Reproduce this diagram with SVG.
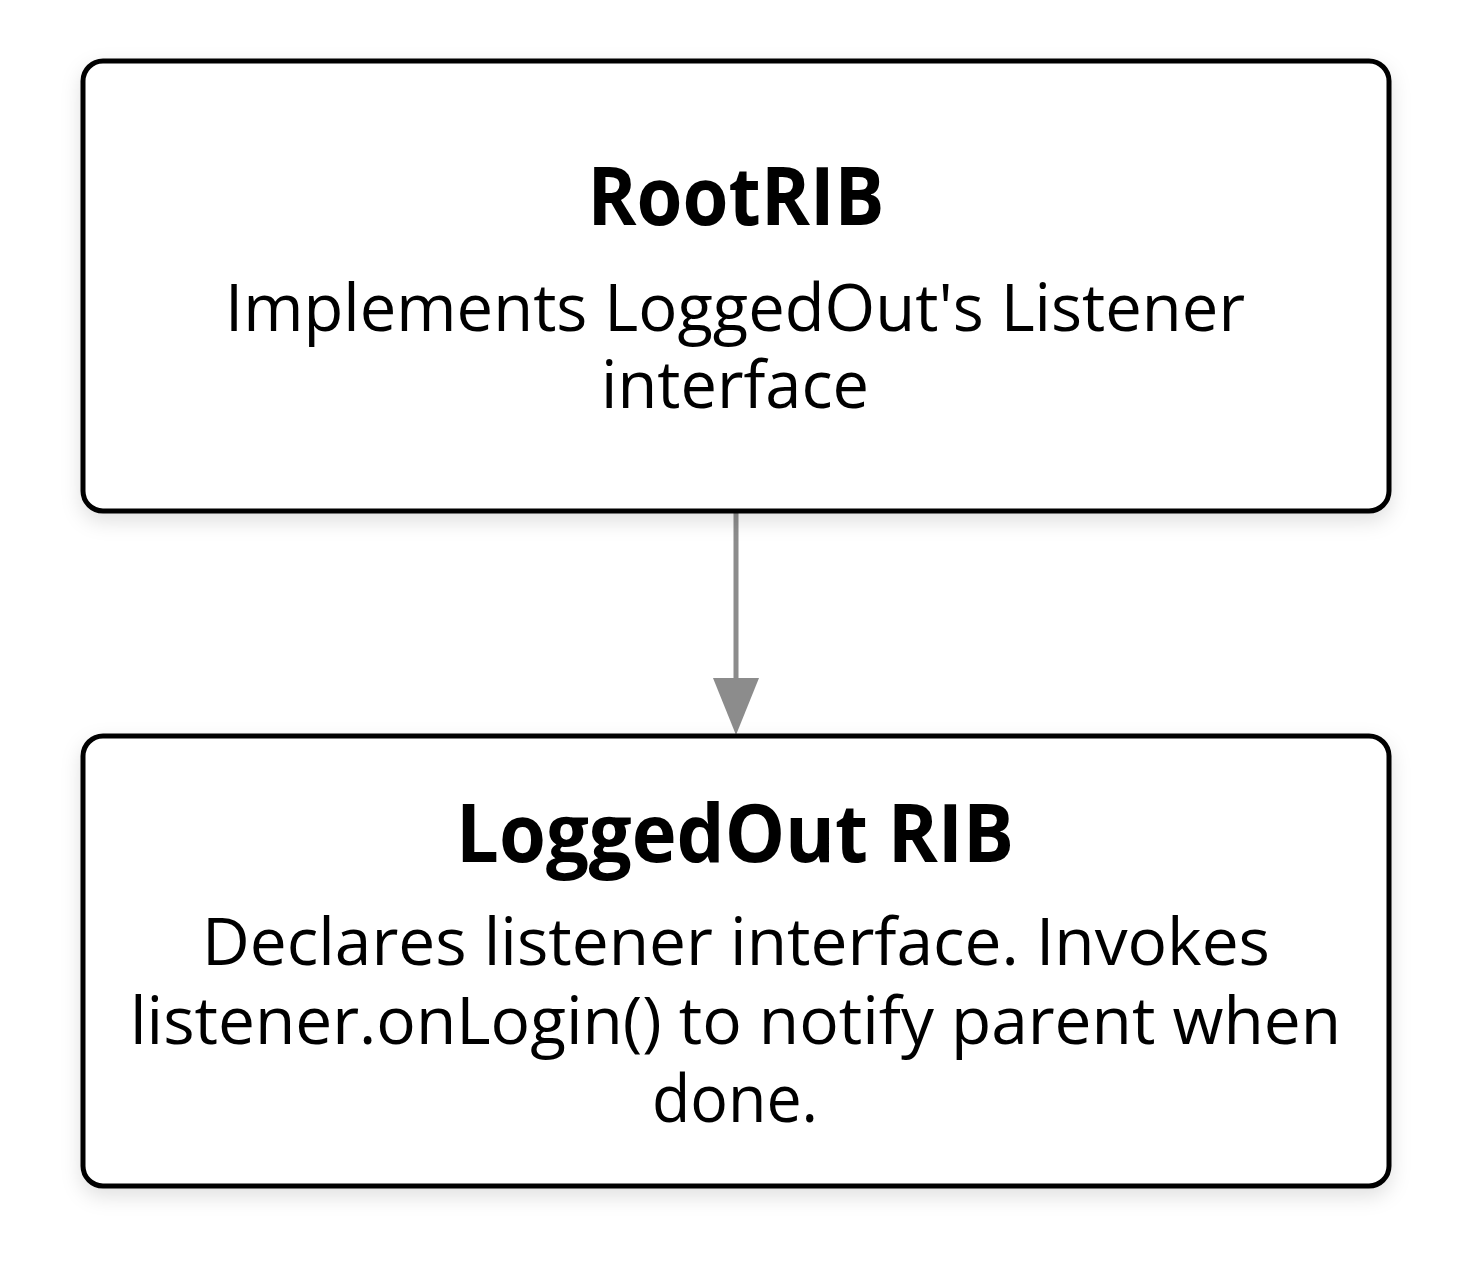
<svg xmlns="http://www.w3.org/2000/svg" width="1484" height="1264" viewBox="0 0 1484 1264">
<style>
.box{fill:#ffffff;stroke:#000000;stroke-width:5;filter:url(#sh)}
.title{font-family:"Open Sans","Noto Sans",sans-serif;font-weight:bold;font-size:80px;fill:#000;text-anchor:middle}
.body{font-family:"Open Sans","Noto Sans",sans-serif;font-size:66px;fill:#000;text-anchor:middle}
.edge{stroke:#8c8c8c;stroke-width:5;fill:none}
</style>
<defs>
<filter id="sh" x="-10%" y="-10%" width="120%" height="130%">
<feDropShadow dx="0" dy="8" stdDeviation="10" flood-color="#000" flood-opacity="0.12"/>
</filter>
<marker id="arr" markerUnits="userSpaceOnUse" markerWidth="50" markerHeight="60" refX="23" refY="57" orient="auto-start-reverse" viewBox="0 0 46 60">
<path d="M0,0 L46,0 L23,57 Z" fill="#8c8c8c"/>
</marker>
</defs>
<rect width="1484" height="1264" fill="#ffffff"/>
<g id="edges">
<path class="edge" d="M736,513 L736,680"/>
<path d="M713,678 L759,678 L736,735 Z" fill="#8c8c8c"/>
</g>
<g id="rootrib">
<rect class="box" x="83" y="61" width="1306" height="450" rx="20"/>
<text class="title" x="736" y="225" textLength="297" lengthAdjust="spacingAndGlyphs">RootRIB</text>
<text class="body" x="735" y="331" textLength="1020" lengthAdjust="spacingAndGlyphs">Implements LoggedOut's Listener</text>
<text class="body" x="735" y="408" textLength="268" lengthAdjust="spacingAndGlyphs">interface</text>
</g>
<g id="loggedout">
<rect class="box" x="83" y="736" width="1306" height="450" rx="20"/>
<text class="title" x="735" y="862" textLength="558" lengthAdjust="spacingAndGlyphs">LoggedOut RIB</text>
<text class="body" x="736" y="965" textLength="1068" lengthAdjust="spacingAndGlyphs">Declares listener interface. Invokes</text>
<text class="body" x="735.5" y="1044" textLength="1211" lengthAdjust="spacingAndGlyphs">listener.onLogin() to notify parent when</text>
<text class="body" x="735" y="1122" textLength="166" lengthAdjust="spacingAndGlyphs">done.</text>
</g>
</svg>
